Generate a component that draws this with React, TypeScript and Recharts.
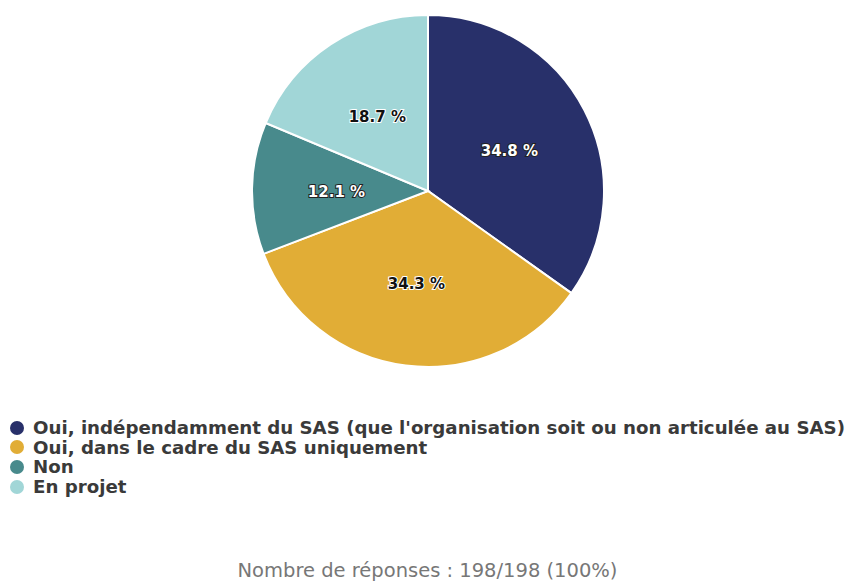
import { Cell, Legend, Pie, PieChart } from "recharts";

const categories = [
  "Oui, indépendamment du SAS (que l'organisation soit ou non articulée au SAS)",
  "Oui, dans le cadre du SAS uniquement",
  "Non",
  "En projet",
];
const responses = [69, 68, 24, 37];
const colors = ["#28306a", "#e1ad36", "#488a8c", "#a1d6d7"];
const darkSlice = [true, false, true, false];
const TOTAL = 198;

const data = categories.map((name, i) => ({ name, value: responses[i] }));

const RAD = Math.PI / 180;

function SliceLabel(props: any) {
  const { cx, cy, midAngle, outerRadius, value, index } = props;
  const r = outerRadius * 0.52;
  const x = cx + r * Math.cos(-midAngle * RAD);
  const y = cy + r * Math.sin(-midAngle * RAD) + 2;
  const pct = ((value / TOTAL) * 100).toFixed(1) + " %";
  const dark = darkSlice[index];
  return (
    <text
      x={x}
      y={y}
      textAnchor="middle"
      dominantBaseline="central"
      fontFamily="'DejaVu Sans', sans-serif"
      fontSize={15}
      fontWeight="bold"
      fill={dark ? "#ffffff" : "#111111"}
      stroke={dark ? "#222222" : "#ffffff"}
      strokeWidth={2}
      paintOrder="stroke"
    >
      {pct}
    </text>
  );
}

function LegendList() {
  return (
    <div style={{ fontFamily: "'DejaVu Sans', sans-serif", fontWeight: "bold", fontSize: 18.2, color: "#3a3a3a" }}>
      {categories.map((c, i) => (
        <div key={c} style={{ display: "flex", alignItems: "center", height: 19.6 }}>
          <span
            style={{
              width: 14,
              height: 14,
              borderRadius: 7,
              background: colors[i],
              display: "inline-block",
              marginRight: 9,
              flexShrink: 0,
            }}
          />
          <span style={{ whiteSpace: "nowrap" }}>{c}</span>
        </div>
      ))}
    </div>
  );
}

export default function App() {
  return (
    <div style={{ position: "absolute", left: 0, top: 0, width: 849, height: 581, background: "#fff", overflow: "hidden" }}>
      <PieChart width={849} height={581}>
        <Pie
          data={data}
          dataKey="value"
          nameKey="name"
          cx={423}
          cy={186}
          outerRadius={176}
          startAngle={90}
          endAngle={-270}
          stroke="#ffffff"
          strokeWidth={2}
          label={SliceLabel}
          labelLine={false}
          isAnimationActive={false}
        >
          {data.map((d, i) => (
            <Cell key={d.name} fill={colors[i]} />
          ))}
        </Pie>
        <Legend
          content={() => <LegendList />}
          wrapperStyle={{ position: "absolute", left: 10, top: 418, width: 839 }}
        />
      </PieChart>
      <div
        style={{
          position: "absolute",
          left: 0,
          width: 855,
          top: 559,
          textAlign: "center",
          fontFamily: "'DejaVu Sans', sans-serif",
          fontSize: 19.5,
          color: "#777",
          whiteSpace: "nowrap",
        }}
      >
        Nombre de réponses : 198/198 (100%)
      </div>
    </div>
  );
}
